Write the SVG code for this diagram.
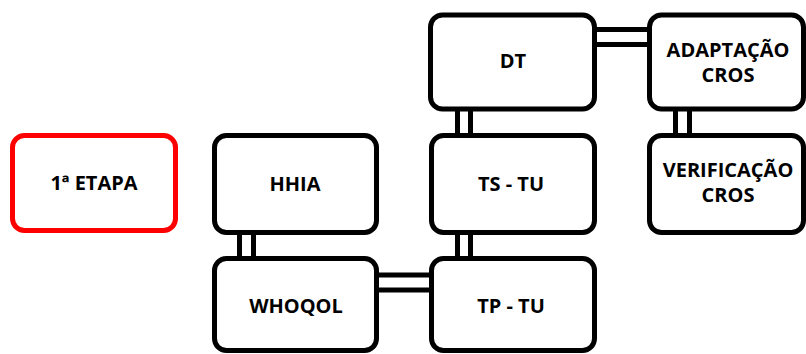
<svg xmlns="http://www.w3.org/2000/svg" width="806" height="354" viewBox="0 0 806 354">
<style>
.box{fill:#fff;stroke:#000;stroke-width:5}
.red{stroke:#ff0000}
.lbl{font-family:"Open Sans","Liberation Sans",sans-serif;font-weight:bold;font-size:20px;fill:#000;text-anchor:middle}
.con line{stroke:#000;stroke-width:5}
</style>
<rect width="806" height="354" fill="#fff"/>
<g id="connectors" class="con">
<line x1="239.5" y1="233" x2="239.5" y2="259"/>
<line x1="253.5" y1="233" x2="253.5" y2="259"/>
<line x1="377" y1="275" x2="432" y2="275"/>
<line x1="377" y1="290" x2="432" y2="290"/>
<line x1="457.5" y1="233" x2="457.5" y2="259"/>
<line x1="470.5" y1="233" x2="470.5" y2="259"/>
<line x1="457.5" y1="109" x2="457.5" y2="136"/>
<line x1="470.5" y1="109" x2="470.5" y2="136"/>
<line x1="595" y1="29.5" x2="650" y2="29.5"/>
<line x1="595" y1="44.5" x2="650" y2="44.5"/>
<line x1="675.5" y1="109" x2="675.5" y2="136"/>
<line x1="689.5" y1="109" x2="689.5" y2="136"/>
</g>
<g id="etapa"><rect class="box red" x="12.5" y="135.5" width="163" height="95" rx="12"/><text class="lbl" x="94" y="190">1ª ETAPA</text></g>
<g id="hhia"><rect class="box" x="214.5" y="135.5" width="162" height="97" rx="12"/><text class="lbl" x="295" y="191">HHIA</text></g>
<g id="whoqol"><rect class="box" x="214.5" y="258.5" width="162" height="92" rx="12"/><text class="lbl" x="296" y="313">WHOQOL</text></g>
<g id="dt"><rect class="box" x="430.5" y="15" width="164" height="94" rx="12"/><text class="lbl" x="513" y="68">DT</text></g>
<g id="tstu"><rect class="box" x="431.5" y="135.5" width="163" height="97" rx="12"/><text class="lbl" x="511" y="191">TS - TU</text></g>
<g id="tptu"><rect class="box" x="431.5" y="258.5" width="163" height="92" rx="12"/><text class="lbl" x="511" y="313">TP - TU</text></g>
<g id="adaptacao"><rect class="box" x="649.5" y="15" width="154" height="94" rx="12"/><text class="lbl" x="728" y="57">ADAPTAÇÃO</text><text class="lbl" x="728" y="82">CROS</text></g>
<g id="verificacao"><rect class="box" x="649.5" y="135.5" width="154" height="97" rx="12"/><text class="lbl" x="728" y="177">VERIFICAÇÃO</text><text class="lbl" x="728" y="202">CROS</text></g>
</svg>
